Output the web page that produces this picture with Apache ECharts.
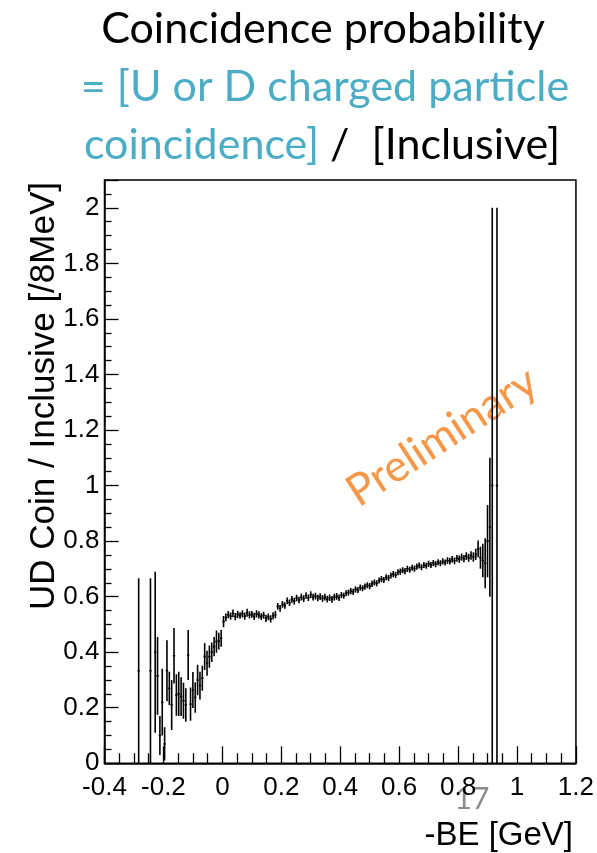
<!DOCTYPE html>
<html>
<head>
<meta charset="utf-8">
<script src="https://cdn.jsdelivr.net/npm/echarts@6/dist/echarts.min.js"></script>
<style>
html,body{margin:0;padding:0;background:#fff;}
#chart{width:597px;height:853px;}
</style>
</head>
<body>
<div id="chart"></div>
<script>
// Histogram binning (8 MeV bins)
const binStart = -0.288;
const binWidth = 0.008;

// Ratio values for bins below 0 (bin centres -0.284 ... -0.004)
const valsBelowZero = [0.333, null, null, null, null, 0.333, null, 0.40, 0.315, 0.10, 0.22, 0.07, 0.333, 0.27, 0.21, 0.387, 0.246, 0.25, 0.24, 0.225, 0.21, 0.39, 0.213, 0.264, 0.237, 0.30, 0.28, 0.306, 0.384, 0.36, 0.384, 0.40, 0.42, 0.438, 0.44, 0.45];
const errsBelowZero = [0.333, null, null, null, null, 0.333, null, 0.29, 0.14, 0.07, 0.12, 0.06, 0.11, 0.06, 0.09, 0.10, 0.075, 0.08, 0.07, 0.065, 0.06, 0.09, 0.06, 0.065, 0.055, 0.055, 0.05, 0.045, 0.048, 0.045, 0.04, 0.035, 0.035, 0.04, 0.03, 0.03];

// Ratio values for bins above 0 (bin centres 0.004 ... 0.932)
const valsAboveZero = [0.51,
  0.525, 0.535, 0.530, 0.540, 0.528, 0.536, 0.532, 0.538, 0.530, 0.542, 0.534, 0.536, 0.529, 0.538, 0.534, 0.528, 0.533, 0.522, 0.527, 0.520, 0.531, 0.535,
  0.565, 0.558, 0.572, 0.568, 0.585, 0.578, 0.590, 0.584, 0.595, 0.588, 0.598, 0.593, 0.604, 0.596, 0.607, 0.598, 0.602, 0.595, 0.600, 0.594, 0.598, 0.591, 0.596, 0.590, 0.598, 0.601, 0.596,
  0.606, 0.603, 0.612, 0.615, 0.620, 0.617, 0.626, 0.624, 0.633, 0.630, 0.636, 0.641, 0.638, 0.646, 0.651, 0.648, 0.658, 0.663, 0.660, 0.670, 0.667, 0.676, 0.681, 0.678, 0.688, 0.690, 0.695, 0.692, 0.700, 0.697,
  0.704, 0.701, 0.708, 0.712, 0.706, 0.714, 0.711, 0.718, 0.714, 0.721, 0.717, 0.724, 0.720, 0.727, 0.723, 0.730, 0.728, 0.734, 0.729, 0.738, 0.735, 0.742, 0.737, 0.746, 0.740, 0.748, 0.743, 0.752,
  0.772, 0.740, 0.730, 0.720, 0.800, 0.850, 1.0, null, 1.0];
const errsAboveZero = [0.02,
  0.014, 0.013, 0.013, 0.014, 0.013, 0.013, 0.012, 0.013, 0.013, 0.014, 0.013, 0.012, 0.013, 0.013, 0.013, 0.012, 0.013, 0.013, 0.012, 0.013, 0.013, 0.013,
  0.012, 0.012, 0.012, 0.012, 0.012, 0.012, 0.012, 0.012, 0.012, 0.012, 0.012, 0.012, 0.012, 0.012, 0.012, 0.012, 0.012, 0.012, 0.012, 0.012, 0.012, 0.012, 0.012, 0.012, 0.012, 0.012, 0.012,
  0.011, 0.011, 0.011, 0.011, 0.011, 0.011, 0.011, 0.011, 0.011, 0.011, 0.011, 0.011, 0.011, 0.011, 0.011, 0.011, 0.011, 0.011, 0.011, 0.011, 0.011, 0.011, 0.011, 0.011, 0.011, 0.011, 0.011, 0.011, 0.011, 0.011,
  0.011, 0.011, 0.011, 0.011, 0.011, 0.011, 0.011, 0.011, 0.011, 0.011, 0.011, 0.011, 0.011, 0.011, 0.011, 0.012, 0.012, 0.012, 0.012, 0.012, 0.013, 0.013, 0.013, 0.014, 0.014, 0.015, 0.017, 0.02,
  0.03, 0.04, 0.06, 0.09, 0.13, 0.25, 1.0, null, 1.0];

// Axis ticks
const xTicks = [-0.4, -0.2, 0, 0.2, 0.4, 0.6, 0.8, 1, 1.2];
const yTicks = [0, 0.2, 0.4, 0.6, 0.8, 1, 1.2, 1.4, 1.6, 1.8, 2];

// Texts
const titleLine1 = 'Coincidence probability';
const titleLine2 = '= [U or D charged particle';
const titleLine3a = 'coincidence]';
const titleLine3b = ' /  [Inclusive]';
const xTitle = '-BE [GeV]';
const yTitle = 'UD Coin / Inclusive [/8MeV]';
const watermark = 'Preliminary';
const pageNo = '17';

const allVals = valsBelowZero.concat(valsAboveZero);
const allErrs = errsBelowZero.concat(errsAboveZero);
const points = [];
allVals.forEach((v, i) => {
  if (v === null) return;
  points.push([binStart + binWidth * (i + 0.5), v, allErrs[i]]);
});

const chart = echarts.init(document.getElementById('chart'), null, {renderer: 'canvas'});
const axisFont = 'Liberation Sans, Arial, sans-serif';
const titleFont = 'Lato, "Open Sans", sans-serif';
const teal = '#4BACC6';

chart.setOption({
  animation: false,
  backgroundColor: '#fff',
  grid: {left: 104.5, right: 21, top: 180, bottom: 89.7, show: true, borderColor: '#000', borderWidth: 1.5, backgroundColor: 'transparent'},
  xAxis: {
    type: 'value', min: -0.4, max: 1.2, interval: 0.2,
    axisLine: {show: true, onZero: false, lineStyle: {color: '#000', width: 1.5}},
    axisTick: {show: true, inside: true, length: 17, lineStyle: {color: '#000', width: 1.3}},
    minorTick: {show: true, splitNumber: 4, length: 10, lineStyle: {color: '#000', width: 1.3}},
    splitLine: {show: false},
    axisLabel: {
      color: '#000', fontFamily: axisFont, fontSize: 26, margin: 12,
      formatter: v => { const t = xTicks.find(a => Math.abs(a - v) < 1e-6); return t === undefined ? '' : String(t); }
    }
  },
  yAxis: {
    type: 'value', min: 0, max: 2.1, interval: 0.2,
    axisLine: {show: true, onZero: false, lineStyle: {color: '#000', width: 1.5}},
    axisTick: {show: true, inside: true, length: 14, lineStyle: {color: '#000', width: 1.3}},
    minorTick: {show: true, splitNumber: 4, length: 7, lineStyle: {color: '#000', width: 1.3}},
    splitLine: {show: false},
    axisLabel: {
      color: '#000', fontFamily: axisFont, fontSize: 26, margin: 5, showMaxLabel: false,
      formatter: v => { const t = yTicks.find(a => Math.abs(a - v) < 1e-6); return t === undefined ? '' : String(t); }
    }
  },
  series: [{
    type: 'custom',
    clip: true,
    data: points,
    renderItem: function (params, api) {
      const x = api.value(0), y = api.value(1), e = api.value(2);
      const hw = binWidth / 2;
      const top = api.coord([x, y + e]);
      const bot = api.coord([x, y - e]);
      const l = api.coord([x - hw, y]);
      const r = api.coord([x + hw, y]);
      const st = {stroke: '#000', lineWidth: 1.6};
      return {
        type: 'group',
        children: [
          {type: 'line', shape: {x1: top[0], y1: top[1], x2: bot[0], y2: bot[1]}, style: st},
          {type: 'line', shape: {x1: l[0], y1: l[1], x2: r[0], y2: r[1]}, style: st}
        ]
      };
    }
  }],
  graphic: [
    {type: 'text', x: 323, y: 51, style: {text: titleLine1, font: '43px ' + titleFont, fill: '#000', align: 'center', verticalAlign: 'bottom'}},
    {type: 'text', x: 325, y: 109, style: {text: titleLine2, font: '43px ' + titleFont, fill: teal, align: 'center', verticalAlign: 'bottom'}},
    {type: 'text', x: 322, y: 167, style: {
      text: '{b|' + titleLine3a + '}{k|' + titleLine3b + '}', align: 'center', verticalAlign: 'bottom',
      rich: {b: {fontFamily: titleFont, fontSize: 43, fill: teal, color: teal}, k: {fontFamily: titleFont, fontSize: 43, fill: '#000', color: '#000'}}
    }},
    {type: 'text', x: 44, y: 182, rotation: Math.PI / 2, style: {text: yTitle, font: '35px ' + axisFont, fill: '#000', align: 'right', verticalAlign: 'middle'}},
    {type: 'text', x: 573, y: 836, style: {text: xTitle, font: '33px ' + axisFont, fill: '#000', align: 'right', verticalAlign: 'middle'}},
    {type: 'text', x: 442, y: 437, rotation: 33 * Math.PI / 180, style: {text: watermark, font: '44px ' + titleFont, fill: '#F79646', align: 'center', verticalAlign: 'middle'}},
    {type: 'text', x: 472, y: 799, style: {text: pageNo, font: '30px ' + titleFont, fill: '#8C8C8C', align: 'center', verticalAlign: 'middle'}}
  ]
});
</script>
</body>
</html>
